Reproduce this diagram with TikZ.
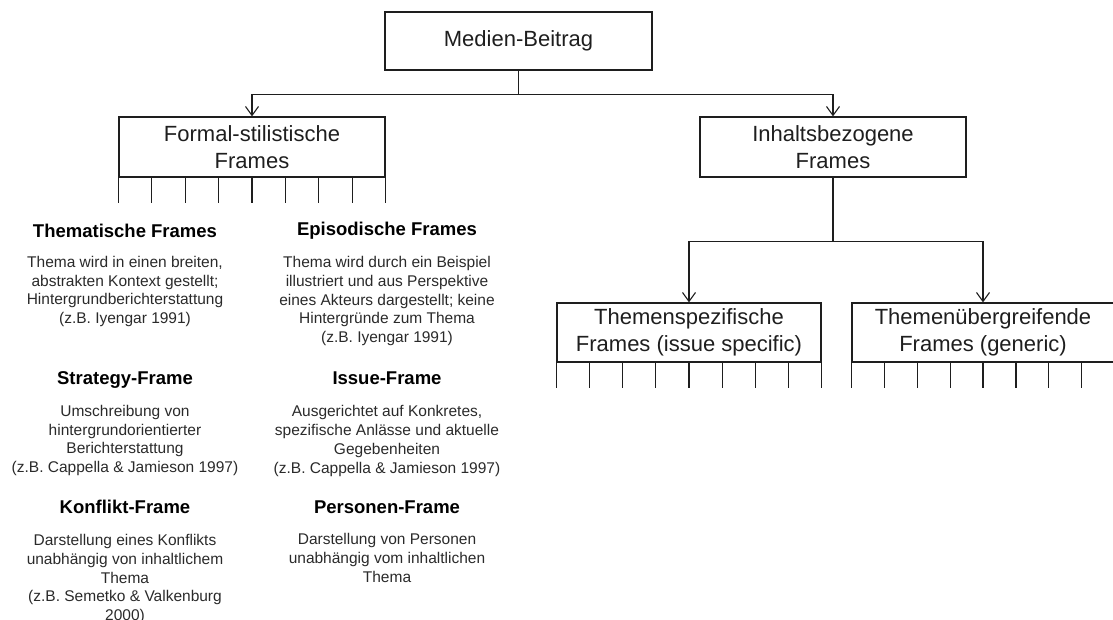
\documentclass[tikz,border=0pt]{standalone}
\usepackage{fontspec}
\setmainfont{Liberation Sans}
\usetikzlibrary{arrows.meta,calc}

\definecolor{ink}{HTML}{1E1E1E}
\definecolor{bodyink}{HTML}{2A2A2A}

\tikzset{
  framebox/.style={draw=ink, line width=1.2pt, inner sep=0pt, align=center,
    font=\fontsize{22}{26.5}\selectfont, text=ink},
  conn/.style={draw=ink, line width=1.2pt,
    -{Straight Barb[length=9pt,width=13pt,line width=1.1pt]}},
  tick/.style={draw=ink, line width=1.2pt},
  headline/.style={align=center, inner sep=0pt,
    font=\fontsize{18.5}{22}\selectfont\bfseries, text=black},
  bodytext/.style={align=center, inner sep=0pt,
    font=\fontsize{15.5}{18.8}\selectfont, text=bodyink}
}

\begin{document}
\begin{tikzpicture}[x=1pt, y=-1pt]
  \useasboundingbox (0,0) rectangle (1113,619);
  \clip (0,0) rectangle (1113,619);

  % boxes
  \node[framebox, minimum width=267pt, minimum height=58pt] (med) at (518.5,41) {Medien-Beitrag};
  \node[framebox, minimum width=266pt, minimum height=60pt] (fs) at (252,147) {Formal-stilistische\\Frames};
  \node[framebox, minimum width=266pt, minimum height=60pt] (ib) at (833,147) {Inhaltsbezogene\\Frames};
  \node[framebox, minimum width=264pt, minimum height=59pt] (ts) at (689,332.5) {Themenspezifische\\Frames (issue specific)};
  \node[framebox, minimum width=262pt, minimum height=59pt] (tu) at (983,332.5) {Themenübergreifende\\Frames (generic)};

  % connectors
  \draw[conn] (med.south) -- ++(0,24) -| (fs.north);
  \draw[conn] (med.south) -- ++(0,24) -| (ib.north);
  \draw[conn] (ib.south) -- ++(0,64) -| (ts.north);
  \draw[conn] (ib.south) -- ++(0,64) -| (tu.north);

  % tick rows below the boxes
  \foreach \b in {fs,ts,tu}{
    \foreach \i in {0,...,8}{
      \draw[tick] ($(\b.south west)!\i/8!(\b.south east)$) -- ++(0,25);
    }
  }

  % left column
  \node[headline] (th) at (125,231) {Thematische Frames};
  \node[bodytext] (thb) at (125,291.5) {Thema wird in einen breiten,\\abstrakten Kontext gestellt;\\Hintergrundberichterstattung\\(z.B. Iyengar 1991)};
  \node[headline] (sf) at (125,380) {Strategy-Frame};
  \node[bodytext] (sfb) at (125,440.5) {Umschreibung von\\hintergrundorientierter\\Berichterstattung\\(z.B. Cappella \& Jamieson 1997)};
  \node[headline] (kf) at (125,507) {Konflikt-Frame};
  \node[bodytext, anchor=north] (kfb) at (125,534) {Darstellung eines Konflikts\\unabhängig von inhaltlichem\\Thema\\(z.B. Semetko \& Valkenburg\\2000)};

  % right column
  \node[headline] (ep) at (387,231) {Episodische Frames};
  \node[bodytext] (epb) at (387,301) {Thema wird durch ein Beispiel\\illustriert und aus Perspektive\\eines Akteurs dargestellt; keine\\Hintergründe zum Thema\\(z.B. Iyengar 1991)};
  \node[headline] (is) at (387,378) {Issue-Frame};
  \node[bodytext] (isb) at (387,441) {Ausgerichtet auf Konkretes,\\spezifische Anlässe und aktuelle\\Gegebenheiten\\(z.B. Cappella \& Jamieson 1997)};
  \node[headline] (pf) at (387,507) {Personen-Frame};
  \node[bodytext] (pfb) at (387,558) {Darstellung von Personen\\unabhängig vom inhaltlichen\\Thema};
\end{tikzpicture}
\end{document}
